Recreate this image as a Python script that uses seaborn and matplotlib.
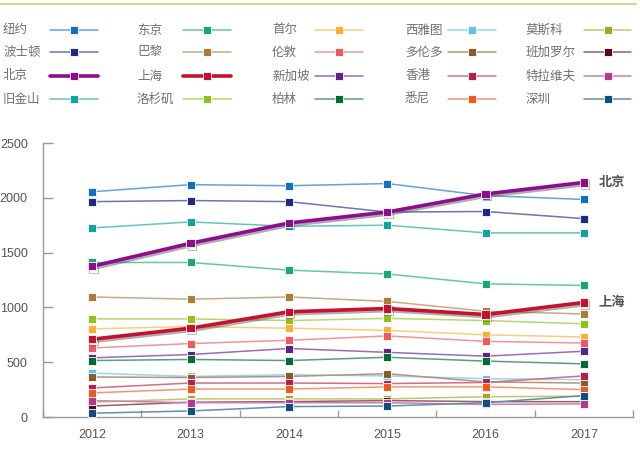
import numpy as np
import pandas as pd
import matplotlib
matplotlib.use("Agg")
import matplotlib.pyplot as plt
import matplotlib.patheffects as pe
from matplotlib.colors import to_rgb
from matplotlib.lines import Line2D
import seaborn as sns

years = ["2012", "2013", "2014", "2015", "2016", "2017"]

# legend order (column by column, 4 rows)
cities = ["纽约", "波士顿", "北京", "旧金山",
          "东京", "巴黎", "上海", "洛杉矶",
          "首尔", "伦敦", "新加坡", "柏林",
          "西雅图", "多伦多", "香港", "悉尼",
          "莫斯科", "班加罗尔", "特拉维夫", "深圳"]

new_york  = [2055, 2120, 2110, 2130, 2020, 1985]
boston    = [1965, 1975, 1965, 1870, 1875, 1810]
beijing   = [1375, 1585, 1770, 1870, 2035, 2140]
san_fran  = [1725, 1780, 1740, 1750, 1680, 1680]
tokyo     = [1410, 1410, 1340, 1305, 1215, 1200]
paris     = [1095, 1075, 1095, 1055, 965, 940]
shanghai  = [710, 810, 960, 990, 935, 1045]
la        = [895, 895, 880, 900, 880, 850]
seoul     = [805, 825, 810, 790, 750, 730]
london    = [630, 670, 700, 740, 690, 675]
singapore = [540, 570, 625, 590, 555, 600]
berlin    = [515, 525, 515, 545, 510, 485]
seattle   = [400, 370, 385, 375, 350, 340]
toronto   = [365, 360, 370, 395, 320, 310]
hong_kong = [265, 310, 310, 305, 315, 375]
sydney    = [220, 255, 255, 275, 275, 250]
moscow    = [135, 165, 165, 165, 185, 190]
bangalore = [100, 135, 140, 150, 140, 140]
tel_aviv  = [150, 130, 130, 130, 115, 120]
shenzhen  = [35, 55, 95, 100, 130, 195]

series = [new_york, boston, beijing, san_fran, tokyo, paris, shanghai, la,
          seoul, london, singapore, berlin, seattle, toronto, hong_kong, sydney,
          moscow, bangalore, tel_aviv, shenzhen]

colors = ["#1170C4", "#1B2A85", "#900C8E", "#12A39A",
          "#14AB6B", "#B07A3C", "#C8102E", "#8DC21F",
          "#FBB034", "#EE5A5E", "#5E1F8F", "#006B35",
          "#5BC2E9", "#8B5A2B", "#B81E4A", "#F05A1E",
          "#A3A823", "#5B0A14", "#B5388C", "#0F4F7F"]

highlight = ["北京", "上海"]

df = pd.DataFrame([
    {"city": c, "year": y, "value": v}
    for c, vals in zip(cities, series) for y, v in zip(years, vals)
])


def lighten(c, amount=0.4):
    r, g, b = to_rgb(c)
    return (r + (1 - r) * amount, g + (1 - g) * amount, b + (1 - b) * amount)


sns.set_theme(style="white")
plt.rcParams["font.family"] = ["Noto Sans CJK SC", "DejaVu Sans"]

W, H = 640, 471
fig = plt.figure(figsize=(W / 100, H / 100), dpi=100)
ax = fig.add_axes([43 / W, 1 - 417 / H, (633 - 43) / W, (417 - 143) / H])

order = [c for c in cities if c not in highlight] + highlight
for city in order:
    i = cities.index(city)
    sub = df[df["city"] == city]
    col = colors[i]
    if city in highlight:
        sns.lineplot(data=sub, x="year", y="value", ax=ax, color=col, lw=2.6,
                     marker="s", ms=6, mfc=col, mec="white", mew=0.6,
                     sort=False, zorder=5,
                     path_effects=[pe.SimpleLineShadow(offset=(1, -1.5), shadow_color="0.3", alpha=0.45),
                                   pe.Normal()])
    else:
        sns.lineplot(data=sub, x="year", y="value", ax=ax, color=lighten(col, 0.35), lw=1.1,
                     marker="s", ms=5.5, mfc=col, mec="white", mew=0.6,
                     sort=False, zorder=3)

# labels at end of highlighted lines
for city in highlight:
    v = series[cities.index(city)][-1]
    ax.annotate(city, xy=(len(years) - 1, v), xytext=(15, 0), textcoords="offset pixels",
                ha="left", va="center", fontsize=9.5, fontweight="bold", color="#555555")

num_font = ["Liberation Sans", "DejaVu Sans"]

ax.set_xlim(-0.5, len(years) - 0.5)
ax.set_ylim(0, 2500)
ax.set_yticks(np.arange(0, 2501, 500))
ax.set_xticks(range(len(years)))
ax.set_xticklabels(years)
ax.set_xticks(np.arange(-0.5, len(years)), minor=True)
ax.set_xlabel("")
ax.set_ylabel("")

for lab in ax.get_xticklabels() + ax.get_yticklabels():
    lab.set_family(num_font)
    lab.set_fontsize(9)
    lab.set_color("#555555")

ax.tick_params(axis="x", which="major", length=0, pad=9)
ax.tick_params(axis="x", which="minor", direction="in", length=5, width=1, color="#999999", bottom=True)
ax.tick_params(axis="y", direction="in", length=7, width=1, color="#999999", left=True, pad=11)

for side in ["top", "right"]:
    ax.spines[side].set_visible(False)
for side in ["left", "bottom"]:
    ax.spines[side].set_color("#999999")
    ax.spines[side].set_linewidth(1)

# top rule
fig.add_artist(Line2D([0, 636 / W], [1 - 4 / H, 1 - 4 / H], color="#B8DC6C", lw=1.2))

# legend: label on the left, sample on the right
text_x = [3, 137, 272, 405, 526]
hand_x = [(50, 98), (183, 231), (315, 363), (448, 496), (584, 631)]
row_y = [30, 52, 76, 99]
for i, city in enumerate(cities):
    c, r = i // 4, i % 4
    y = 1 - row_y[r] / H
    fig.text(text_x[c] / W, y, city, ha="left", va="center", fontsize=9, color="#707070")
    x0, x1 = hand_x[c]
    big = city in highlight
    fig.add_artist(Line2D([x0 / W, x1 / W], [y, y],
                          color=colors[i] if big else lighten(colors[i], 0.35),
                          lw=2.6 if big else 1.1))
    fig.add_artist(Line2D([(x0 + x1) / 2 / W], [y], marker="s", ms=5.5,
                          mfc=colors[i], mec="white", mew=0.6, color=colors[i]))

fig.savefig("out.png", dpi=100)
